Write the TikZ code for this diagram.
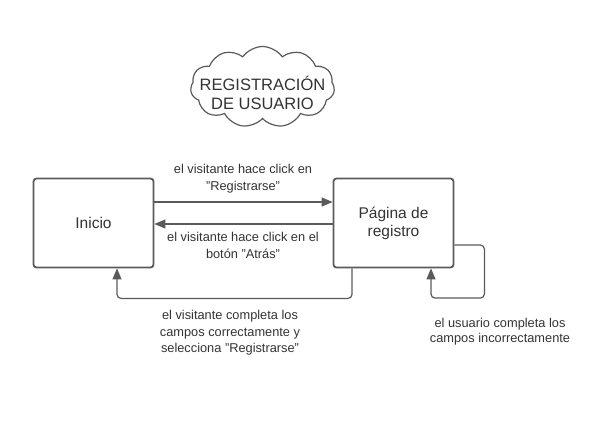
\documentclass[tikz,border=0pt]{standalone}
\usepackage{fontspec}
\setmainfont{Liberation Sans}
\usetikzlibrary{arrows.meta,shapes.symbols}
\definecolor{linegray}{HTML}{5A5A5A}
\definecolor{textgray}{HTML}{333333}
\tikzset{
  state/.style={draw=linegray, line width=1.8pt, rounded corners=3pt,
    minimum width=120pt, minimum height=89pt, align=center,
    font=\fontsize{15.5}{18}\selectfont, text=textgray},
  arr/.style={draw=linegray, line width=1.2pt, rounded corners=4pt,
    -{Triangle[length=11pt,width=9pt]}},
  lbl/.style={align=center, font=\fontsize{12.8}{16.5}\selectfont, text=textgray}
}
\begin{document}
\begin{tikzpicture}[x=1pt,y=-1pt]
\useasboundingbox (0,0) rectangle (609,423);
% Title cloud
\node[cloud, cloud puffs=11, cloud puff arc=110, aspect=1.75, draw=linegray,
  line width=1.2pt, inner sep=0pt, minimum width=144pt, minimum height=81pt]
  (titulo) at (262.5,87) {};
\node[align=center, font=\fontsize{16.5}{18.5}\selectfont, text=textgray]
  (titulotxt) at ([yshift=-6pt]titulo.center) {REGISTRACIÓN\\DE USUARIO};
% States
\node[state] (inicio) at (93.5,223) {Inicio};
\node[state] (pagina) at (393.5,223) {Página de\\registro};
% Transitions
\draw[arr] ([yshift=21pt]inicio.east) -- ([yshift=21pt]pagina.west);
\draw[arr] ([yshift=-1pt]pagina.west) -- ([yshift=-1pt]inicio.east);
\draw[arr] ([xshift=-41.5pt]pagina.south) -- ++(0,30) -| ([xshift=23.5pt]inicio.south);
\draw[arr] ([yshift=-22pt]pagina.east) -- ++(30,0) -- ++(0,53) -| ([xshift=37.5pt]pagina.south);
% Labels
\node[lbl] (l1) at (243,178.5) {el visitante hace click en\\"Registrarse"};
\node[lbl] (l2) at (243,245.5) {el visitante hace click en el\\botón "Atrás"};
\node[lbl] (l3) at (230,333) {el visitante completa los\\campos correctamente y\\selecciona "Registrarse"};
\node[lbl, font=\fontsize{12.8}{15}\selectfont] (l4) at (500,331.5) {el usuario completa los\\campos incorrectamente};
\end{tikzpicture}
\end{document}
